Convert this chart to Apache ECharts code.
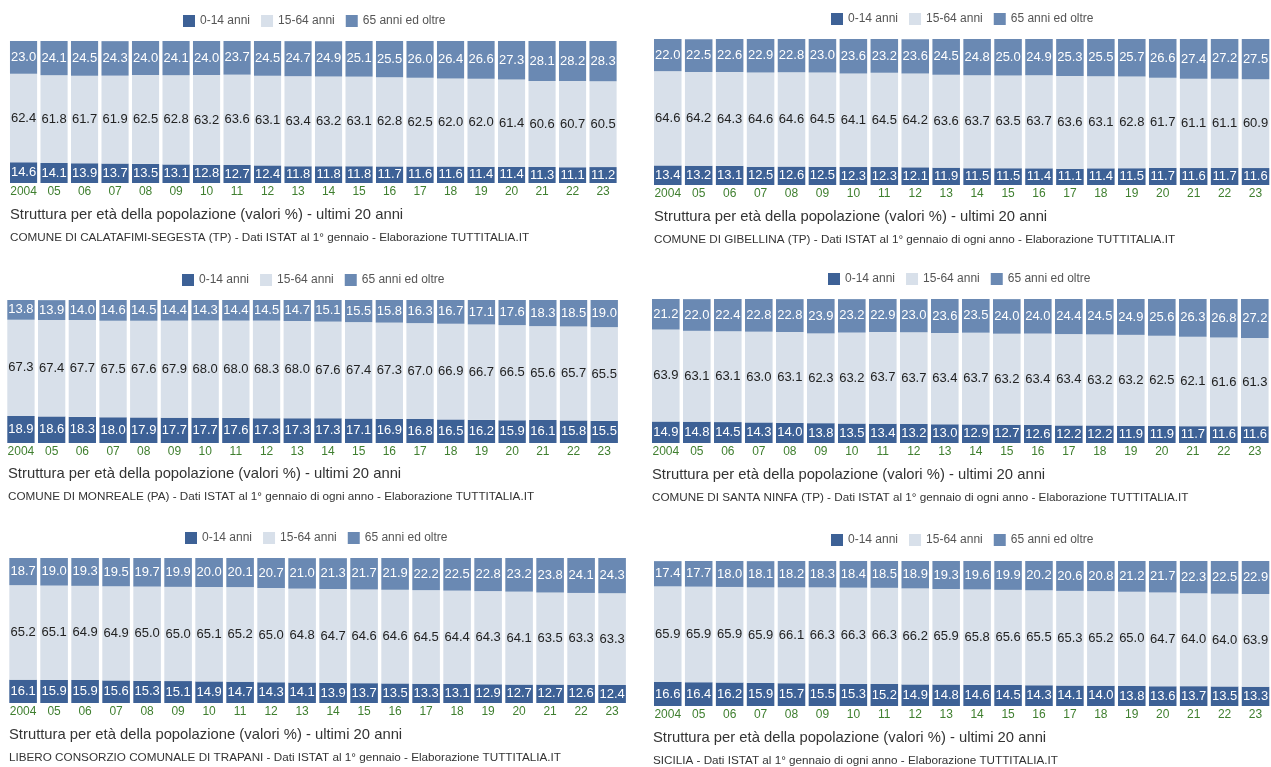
<!DOCTYPE html>
<html>
<head>
<meta charset="utf-8">
<script src="https://cdn.jsdelivr.net/npm/echarts@6/dist/echarts.min.js"></script>
<style>
  html, body { margin: 0; padding: 0; background: #fff; }
  #chart { width: 1271px; height: 767px; }
</style>
</head>
<body>
<div id="chart"></div>
<script>
// anni
const years = ['2004','05','06','07','08','09','10','11','12','13','14','15','16','17','18','19','20','21','22','23']
const seriesNames = ['0-14 anni', '15-64 anni', '65 anni ed oltre']

// Calatafimi-Segesta
const calatafimiYoung = [14.6,14.1,13.9,13.7,13.5,13.1,12.8,12.7,12.4,11.8,11.8,11.8,11.7,11.6,11.6,11.4,11.4,11.3,11.1,11.2]
const calatafimiAdult = [62.4,61.8,61.7,61.9,62.5,62.8,63.2,63.6,63.1,63.4,63.2,63.1,62.8,62.5,62.0,62.0,61.4,60.6,60.7,60.5]
const calatafimiOld = [23.0,24.1,24.5,24.3,24.0,24.1,24.0,23.7,24.5,24.7,24.9,25.1,25.5,26.0,26.4,26.6,27.3,28.1,28.2,28.3]

// Gibellina
const gibellinaYoung = [13.4,13.2,13.1,12.5,12.6,12.5,12.3,12.3,12.1,11.9,11.5,11.5,11.4,11.1,11.4,11.5,11.7,11.6,11.7,11.6]
const gibellinaAdult = [64.6,64.2,64.3,64.6,64.6,64.5,64.1,64.5,64.2,63.6,63.7,63.5,63.7,63.6,63.1,62.8,61.7,61.1,61.1,60.9]
const gibellinaOld = [22.0,22.5,22.6,22.9,22.8,23.0,23.6,23.2,23.6,24.5,24.8,25.0,24.9,25.3,25.5,25.7,26.6,27.4,27.2,27.5]

// Monreale
const monrealeYoung = [18.9,18.6,18.3,18.0,17.9,17.7,17.7,17.6,17.3,17.3,17.3,17.1,16.9,16.8,16.5,16.2,15.9,16.1,15.8,15.5]
const monrealeAdult = [67.3,67.4,67.7,67.5,67.6,67.9,68.0,68.0,68.3,68.0,67.6,67.4,67.3,67.0,66.9,66.7,66.5,65.6,65.7,65.5]
const monrealeOld = [13.8,13.9,14.0,14.6,14.5,14.4,14.3,14.4,14.5,14.7,15.1,15.5,15.8,16.3,16.7,17.1,17.6,18.3,18.5,19.0]

// Santa Ninfa
const santaNinfaYoung = [14.9,14.8,14.5,14.3,14.0,13.8,13.5,13.4,13.2,13.0,12.9,12.7,12.6,12.2,12.2,11.9,11.9,11.7,11.6,11.6]
const santaNinfaAdult = [63.9,63.1,63.1,63.0,63.1,62.3,63.2,63.7,63.7,63.4,63.7,63.2,63.4,63.4,63.2,63.2,62.5,62.1,61.6,61.3]
const santaNinfaOld = [21.2,22.0,22.4,22.8,22.8,23.9,23.2,22.9,23.0,23.6,23.5,24.0,24.0,24.4,24.5,24.9,25.6,26.3,26.8,27.2]

// Libero Consorzio di Trapani
const trapaniYoung = [16.1,15.9,15.9,15.6,15.3,15.1,14.9,14.7,14.3,14.1,13.9,13.7,13.5,13.3,13.1,12.9,12.7,12.7,12.6,12.4]
const trapaniAdult = [65.2,65.1,64.9,64.9,65.0,65.0,65.1,65.2,65.0,64.8,64.7,64.6,64.6,64.5,64.4,64.3,64.1,63.5,63.3,63.3]
const trapaniOld = [18.7,19.0,19.3,19.5,19.7,19.9,20.0,20.1,20.7,21.0,21.3,21.7,21.9,22.2,22.5,22.8,23.2,23.8,24.1,24.3]

// Sicilia
const siciliaYoung = [16.6,16.4,16.2,15.9,15.7,15.5,15.3,15.2,14.9,14.8,14.6,14.5,14.3,14.1,14.0,13.8,13.6,13.7,13.5,13.3]
const siciliaAdult = [65.9,65.9,65.9,65.9,66.1,66.3,66.3,66.3,66.2,65.9,65.8,65.6,65.5,65.3,65.2,65.0,64.7,64.0,64.0,63.9]
const siciliaOld = [17.4,17.7,18.0,18.1,18.2,18.3,18.4,18.5,18.9,19.3,19.6,19.9,20.2,20.6,20.8,21.2,21.7,22.3,22.5,22.9]

const titleText = 'Struttura per età della popolazione (valori %) - ultimi 20 anni'

// pannelli: dati + posizione
const panels = [
  { young: calatafimiYoung, adult: calatafimiAdult, old: calatafimiOld,
    sub: 'COMUNE DI CALATAFIMI-SEGESTA (TP) - Dati ISTAT al 1° gennaio - Elaborazione TUTTITALIA.IT',
    grid: { left: 8.3, top: 41, width: 610, height: 142 }, legend: { left: 178, top: 10 }, title: { left: 10, top: 207.5 } },
  { young: gibellinaYoung, adult: gibellinaAdult, old: gibellinaOld,
    sub: 'COMUNE DI GIBELLINA (TP) - Dati ISTAT al 1° gennaio di ogni anno - Elaborazione TUTTITALIA.IT',
    grid: { left: 652.3, top: 39, width: 625, height: 146 }, legend: { left: 826, top: 8 }, title: { left: 654, top: 209.5 } },
  { young: monrealeYoung, adult: monrealeAdult, old: monrealeOld,
    sub: 'COMUNE DI MONREALE (PA) - Dati ISTAT al 1° gennaio di ogni anno - Elaborazione TUTTITALIA.IT',
    grid: { left: 5.6, top: 300, width: 614, height: 143 }, legend: { left: 177, top: 269 }, title: { left: 8, top: 466.5 } },
  { young: santaNinfaYoung, adult: santaNinfaAdult, old: santaNinfaOld,
    sub: 'COMUNE DI SANTA NINFA (TP) - Dati ISTAT al 1° gennaio di ogni anno - Elaborazione TUTTITALIA.IT',
    grid: { left: 650.3, top: 299, width: 620, height: 144 }, legend: { left: 823, top: 268 }, title: { left: 652, top: 467.5 } },
  { young: trapaniYoung, adult: trapaniAdult, old: trapaniOld,
    sub: 'LIBERO CONSORZIO COMUNALE DI TRAPANI - Dati ISTAT al 1° gennaio - Elaborazione TUTTITALIA.IT',
    grid: { left: 7.6, top: 558, width: 620, height: 145 }, legend: { left: 180, top: 527 }, title: { left: 9, top: 727.5 } },
  { young: siciliaYoung, adult: siciliaAdult, old: siciliaOld,
    sub: 'SICILIA - Dati ISTAT al 1° gennaio di ogni anno - Elaborazione TUTTITALIA.IT',
    grid: { left: 652.3, top: 561, width: 625, height: 145 }, legend: { left: 826, top: 529 }, title: { left: 653, top: 730.5 } }
]

const colors = ['#3d6196', '#d8e0ea', '#6a89b3']
const labelColors = ['#fff', '#222', '#fff']
const font = '"Liberation Sans", Arial, Helvetica, sans-serif'

const myChart = echarts.init(document.getElementById('chart'))

const grid = [], xAxis = [], yAxis = [], series = [], legend = [], title = []
panels.forEach((p, i) => {
  grid.push(Object.assign({ containLabel: false }, p.grid))
  xAxis.push({
    type: 'category', gridIndex: i, data: years,
    axisLine: { show: false }, axisTick: { show: false },
    axisLabel: { color: '#3f7f2f', fontSize: 12, fontFamily: font, margin: 3, interval: 0 }
  })
  yAxis.push({ type: 'value', gridIndex: i, min: 0, max: 100, show: false })
  ;[p.young, p.adult, p.old].forEach((vals, k) => {
    series.push({
      name: seriesNames[k], type: 'bar', stack: 'p' + i,
      xAxisIndex: i, yAxisIndex: i,
      barCategoryGap: '11%',
      data: vals,
      itemStyle: { color: colors[k] },
      label: {
        show: true, position: 'inside', color: labelColors[k],
        fontSize: 13, fontFamily: font,
        formatter: (d) => d.value.toFixed(1)
      },
      emphasis: { disabled: true },
      animation: false
    })
  })
  legend.push({
    left: p.legend.left, top: p.legend.top,
    itemWidth: 12, itemHeight: 12, itemGap: 11,
    icon: 'rect',
    textStyle: { color: '#555', fontSize: 12, fontFamily: font },
    data: seriesNames
  })
  title.push({
    left: p.title.left, top: p.title.top,
    text: titleText, subtext: p.sub, itemGap: 9,
    padding: 0,
    textStyle: { fontSize: 14.8, fontWeight: 'normal', color: '#333', fontFamily: font },
    subtextStyle: { fontSize: 11.7, color: '#333', fontFamily: font }
  })
})

myChart.setOption({
  color: colors,
  animation: false,
  title, legend, grid, xAxis, yAxis, series
})
</script>
</body>
</html>
